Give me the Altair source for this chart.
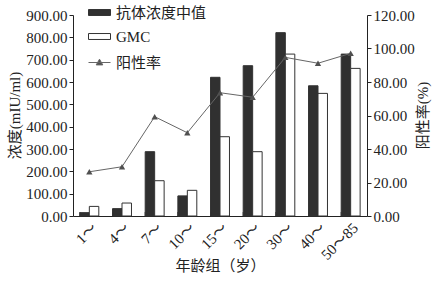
import altair as alt
import pandas as pd

groups = ["1～", "4～", "7～", "10～", "15～", "20～", "30～", "40～", "50～85"]
median = [15, 33, 288, 90, 621, 673, 821, 583, 725]
gmc = [43, 58, 158, 115, 355, 288, 725, 549, 661]
rate = [26.4, 29.4, 59.3, 49.7, 73.6, 70.9, 94.7, 91.2, 97.1]

series_names = ["抗体浓度中值", "GMC"]
line_name = "阳性率"

FONT = "Liberation Serif, Noto Sans CJK SC, serif"

bar_df = pd.DataFrame(
    [{"group": g, "series": series_names[0], "value": v} for g, v in zip(groups, median)]
    + [{"group": g, "series": series_names[1], "value": v} for g, v in zip(groups, gmc)]
)
line_df = pd.DataFrame({"group": groups, "rate": rate, "lab": [line_name] * len(groups)})

x_enc = alt.X(
    "group:N",
    sort=groups,
    scale=alt.Scale(paddingInner=0.42, paddingOuter=0.21),
    axis=alt.Axis(
        title="年龄组（岁）",
        labelAngle=315,
        ticks=False,
        labelPadding=4,
        titleY=42,
        titleBaseline="top",
    ),
)

rect_path = "M-1,-0.27H1V0.27H-1Z"
line_path = "M-1,0H1M-0.3,0.22L0,-0.3L0.3,0.22Z"

bars = alt.Chart(bar_df).mark_bar(stroke="#333333", strokeWidth=1).encode(
    x=x_enc,
    xOffset=alt.XOffset("series:N", sort=series_names,
                        scale=alt.Scale(paddingInner=0, paddingOuter=0)),
    y=alt.Y(
        "value:Q",
        scale=alt.Scale(domain=[0, 900], nice=False),
        axis=alt.Axis(
            title="浓度(mIU/ml)",
            values=list(range(0, 901, 100)),
            format=".2f",
            tickSize=4,
            labelPadding=2,
            titleX=-59,
            titleY=100,
            titleAlign="center",
            titleBaseline="middle",
            titleAngle=270,
        ),
    ),
    fill=alt.Fill(
        "series:N",
        sort=series_names,
        scale=alt.Scale(domain=series_names, range=["#303030", "#ffffff"]),
        legend=alt.Legend(
            title=None,
            orient="none",
            legendX=15,
            legendY=-14,
            symbolType=rect_path,
            symbolSize=484,
            symbolStrokeColor="#333333",
            symbolStrokeWidth=1,
            labelOffset=5,
            rowPadding=4,
            padding=0,
        ),
    ),
)

bound_ticks = alt.Chart(pd.DataFrame({"group": groups})).mark_rule(
    color="#333333", strokeWidth=1
).encode(
    x=alt.X("group:N", sort=groups, bandPosition=0),
    y=alt.value(201),
    y2=alt.value(197),
)

right_axis = alt.Axis(
    title="阳性率(%)",
    orient="right",
    values=list(range(0, 121, 20)),
    format=".2f",
    tickSize=4,
    labelPadding=2,
    titleX=55,
    titleY=100,
    titleAlign="center",
    titleBaseline="middle",
    titleAngle=270,
)

line = alt.Chart(line_df).mark_line(strokeWidth=1).encode(
    x=alt.X("group:N", sort=groups),
    y=alt.Y("rate:Q", scale=alt.Scale(domain=[0, 120], nice=False), axis=right_axis),
    stroke=alt.Stroke(
        "lab:N",
        scale=alt.Scale(domain=[line_name], range=["#666666"]),
        legend=alt.Legend(
            title=None,
            orient="none",
            legendX=15,
            legendY=36,
            symbolType=line_path,
            symbolSize=484,
            symbolFillColor="#505050",
            symbolStrokeWidth=1,
            labelOffset=5,
            padding=0,
        ),
    ),
)

points = alt.Chart(line_df).mark_point(
    shape="triangle-up", filled=True, size=40, color="#505050", opacity=1
).encode(
    x=alt.X("group:N", sort=groups),
    y=alt.Y("rate:Q", scale=alt.Scale(domain=[0, 120], nice=False), axis=right_axis),
)

left = alt.layer(bars, bound_ticks)
right = alt.layer(line, points)

chart = (
    alt.layer(left, right)
    .resolve_scale(y="independent")
    .properties(
        width=294,
        height=201,
        autosize=alt.AutoSizeParams(type="none"),
        padding={"left": 73, "top": 15, "right": 71, "bottom": 65},
        background="white",
    )
    .configure_view(stroke=None)
    .configure_axis(
        grid=False,
        labelOverlap=False,
        domainColor="#222222",
        tickColor="#222222",
        labelColor="#222222",
        titleColor="#222222",
        labelFont=FONT,
        titleFont=FONT,
        labelFontSize=15,
        titleFontSize=15,
        titleFontWeight="normal",
    )
    .configure_legend(
        labelFont=FONT,
        labelFontSize=15,
        labelColor="#222222",
    )
)

chart.save("out.html", embed_options={"renderer": "svg", "actions": False})
